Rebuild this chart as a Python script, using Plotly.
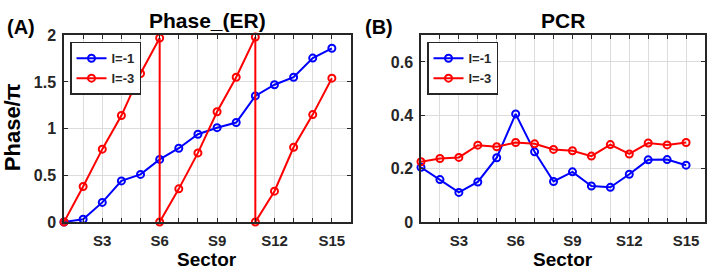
import plotly.graph_objects as go

sectors = list(range(1, 16))

# Panel A: Phase / pi
phase_l1 = [0.0, 0.03, 0.21, 0.44, 0.51, 0.67, 0.79, 0.94, 1.01, 1.065, 1.35, 1.47, 1.55, 1.755, 1.86]
phase_l3_x = [1, 2, 3, 4, 5, 6, 6, 7, 8, 9, 10, 11, 11, 12, 13, 14, 15]
phase_l3 = [0.0, 0.38, 0.78, 1.14, 1.59, 1.97, 0.0, 0.355, 0.74, 1.18, 1.55, 1.98, 0.0, 0.33, 0.80, 1.15, 1.54]

# Panel B: PCR
pcr_l1 = [0.205, 0.159, 0.111, 0.150, 0.241, 0.405, 0.263, 0.152, 0.188, 0.135, 0.130, 0.179, 0.233, 0.234, 0.213]
pcr_l3 = [0.226, 0.238, 0.242, 0.288, 0.282, 0.298, 0.293, 0.272, 0.267, 0.247, 0.290, 0.255, 0.296, 0.289, 0.298]

x_tickvals = list(range(1, 17))
x_ticktext = [f"S{i}" if i % 3 == 0 else "" for i in x_tickvals]
ya_vals = [0, 0.5, 1, 1.5, 2]
ya_text = ["0", "0.5", "1", "1.5", "2"]
yb_vals = [0, 0.2, 0.4, 0.6]
yb_text = ["0", "0.2", "0.4", "0.6"]

BLUE = "#0000FF"
RED = "#FF0000"
INK = "#262626"
FONT = "Liberation Sans"

W, H = 709, 277

def px_x(p):
    return p / W

def px_y(p):
    return 1 - p / H

fig = go.Figure()

def add_series(x, y, color, name, xa, ya, show):
    fig.add_trace(go.Scatter(
        x=x, y=y, mode="lines+markers", name=name,
        line=dict(color=color, width=2),
        marker=dict(symbol="circle-open", size=7, color=color, line=dict(width=2, color=color)),
        xaxis=xa, yaxis=ya, cliponaxis=False, showlegend=show,
        legend="legend" if xa == "x" else "legend2",
    ))

add_series(sectors, phase_l1, BLUE, "l=-1", "x", "y", True)
add_series(phase_l3_x, phase_l3, RED, "l=-3", "x", "y", True)
add_series(sectors, pcr_l1, BLUE, "l=-1", "x2", "y2", True)
add_series(sectors, pcr_l3, RED, "l=-3", "x2", "y2", True)

ydom = [px_y(228), px_y(29)]

common_x = dict(
    range=[1, 16], tickvals=x_tickvals, ticktext=x_ticktext,
    ticks="inside", ticklen=4, tickwidth=1, tickcolor=INK,
    showline=True, linecolor=INK, linewidth=1.5, mirror="ticks",
    showgrid=True, gridcolor="#dcdcdc", gridwidth=1,
    zeroline=False, ticklabelstandoff=4,
    tickfont=dict(family=FONT, size=15, color=INK, weight="bold"),
)
common_y = dict(
    ticks="inside", ticklen=4, tickwidth=1, tickcolor=INK,
    showline=True, linecolor=INK, linewidth=1.5, mirror="ticks",
    showgrid=True, gridcolor="#dcdcdc", gridwidth=1,
    zeroline=False, ticklabelstandoff=3,
    tickfont=dict(family=FONT, size=16, color=INK, weight="bold"),
)

leg_common = dict(
    xanchor="left", yanchor="top",
    bordercolor=INK, borderwidth=1.5, bgcolor="white",
    font=dict(family=FONT, size=13, color=INK, weight="bold"),
    itemwidth=30, tracegroupgap=0,
)

fig.update_layout(
    width=W, height=H,
    margin=dict(l=0, r=0, t=0, b=0),
    paper_bgcolor="white", plot_bgcolor="white",
    xaxis=dict(domain=[px_x(64), px_x(351)], anchor="y", **common_x),
    yaxis=dict(domain=ydom, anchor="x", range=[0, 2], tickvals=ya_vals, ticktext=ya_text, **common_y),
    xaxis2=dict(domain=[px_x(421), px_x(705)], anchor="y2", **common_x),
    yaxis2=dict(domain=ydom, anchor="x2", range=[0, 0.7], tickvals=yb_vals, ticktext=yb_text, **common_y),
    legend=dict(x=px_x(70), y=px_y(36), **leg_common),
    legend2=dict(x=px_x(427), y=px_y(36), **leg_common),
    showlegend=True,
)

def ann(text, x, y, size, angle=0, pad=1):
    fig.add_annotation(
        text=text, x=px_x(x), y=px_y(y), xref="paper", yref="paper",
        showarrow=False, textangle=angle, xanchor="center", yanchor="middle",
        borderpad=pad,
        font=dict(family=FONT, size=size, color="black", weight="bold"),
    )

ann("Phase_(ER)", 207, 13, 21)
ann("PCR", 563, 13, 21)
ann("(A)", 21, 20, 20)
ann("(B)", 379, 20, 20)
ann("Sector", 207, 267.5, 19, pad=0)
ann("Sector", 563, 267.5, 19, pad=0)
ann("Phase/π", 12, 127, 22, -90)

fig.write_html("out.html")
